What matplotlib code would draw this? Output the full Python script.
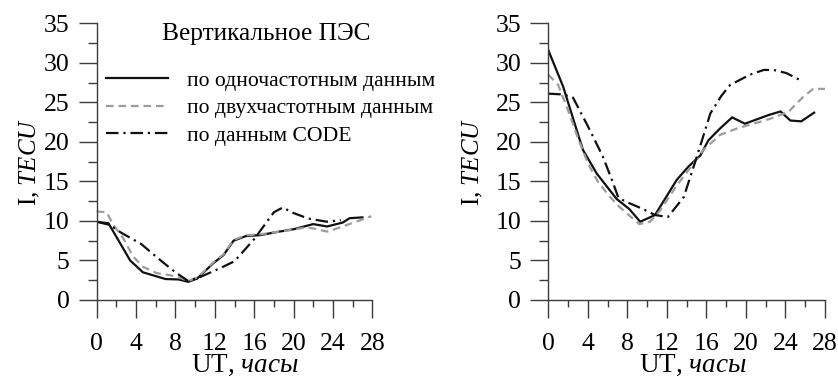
import matplotlib
matplotlib.use("Agg")
import matplotlib.pyplot as plt
from matplotlib.ticker import MultipleLocator

plt.rcParams['font.family'] = ['Liberation Serif', 'DejaVu Serif']
plt.rcParams['mathtext.fontset'] = 'custom'
plt.rcParams['mathtext.rm'] = 'Liberation Serif'
plt.rcParams['mathtext.it'] = 'Liberation Serif:italic'
plt.rcParams['lines.scale_dashes'] = False

# --- vertical TEC, left panel ---
left_single_t = [0, 1.2, 3.4, 4.7, 7.0, 8.3, 9.3, 10.2, 11.8, 12.9, 13.9, 15.2,
                 16.6, 18.3, 20.0, 22.0, 23.4, 25.0, 25.7, 27.0]
left_single_v = [9.9, 9.7, 5.0, 3.5, 2.65, 2.6, 2.3, 2.7, 4.6, 5.7, 7.5, 8.1,
                 8.2, 8.6, 8.95, 9.6, 9.3, 9.8, 10.35, 10.45]

left_dual_t = [0, 1.0, 1.7, 2.7, 3.7, 4.7, 6.1, 7.6, 8.6, 9.3, 10.3, 11.8, 12.9,
               13.9, 15.2, 16.6, 18.3, 20.0, 21.3, 22.2, 23.4, 25.0, 27.9]
left_dual_v = [11.2, 11.1, 9.5, 7.8, 5.5, 4.2, 3.4, 3.1, 2.75, 2.4, 2.9, 4.7, 5.8,
               7.6, 8.2, 8.3, 8.6, 8.9, 9.2, 9.0, 8.65, 9.3, 10.6]

left_code_t = [0, 1.3, 2.5, 4.5, 6.5, 8.0, 9.3, 10.5, 12.5, 14.0, 16.0, 18.0,
               18.9, 20.0, 21.5, 23.4, 24.8]
left_code_v = [9.9, 9.5, 8.5, 7.1, 5.0, 3.5, 2.4, 2.9, 4.0, 4.9, 7.7, 11.1,
               11.7, 11.0, 10.3, 9.9, 10.1]

# --- vertical TEC, right panel ---
right_single_t = [0, 1.5, 3.5, 4.9, 6.9, 8.2, 9.3, 10.8, 13.0, 14.2, 15.4, 16.2,
                  17.3, 18.6, 19.9, 22.3, 23.5, 24.5, 25.6, 26.9]
right_single_v = [31.6, 27.0, 19.0, 16.0, 12.8, 11.5, 9.9, 10.75, 15.2, 16.9, 18.3, 20.2,
                  21.6, 23.1, 22.3, 23.4, 23.85, 22.7, 22.6, 23.7]

right_dual_t = [0, 1.0, 2.0, 3.0, 4.0, 5.0, 6.0, 7.0, 8.0, 9.2, 10.3, 11.3, 13.0,
                14.3, 15.7, 17.4, 19.1, 22.4, 24.3, 25.8, 26.8, 28.0]
right_dual_v = [28.5, 27.2, 24.0, 20.5, 17.3, 15.0, 13.4, 12.0, 10.9, 9.6, 9.9, 11.3, 14.5,
                16.6, 19.0, 20.9, 21.7, 22.9, 23.8, 25.7, 26.7, 26.7]

right_code_t = [0, 1.5, 2.5, 4.0, 5.5, 6.5, 7.1, 8.1, 9.6, 10.8, 12.1, 13.7, 15.0,
                16.4, 17.5, 18.4, 20.4, 21.8, 22.8, 24.1, 25.5]
right_code_v = [26.1, 26.0, 25.6, 22.0, 18.2, 15.0, 12.9, 12.3, 11.5, 10.75, 10.5, 13.0, 18.0,
                23.6, 25.8, 27.2, 28.5, 29.1, 29.1, 28.7, 27.8]

legend_labels = ["по одночастотным данным", "по двухчастотным данным", "по данным CODE"]
title_text = "Вертикальное ПЭС"
x_ticks = [0, 4, 8, 12, 16, 20, 24, 28]
y_ticks = [0, 5, 10, 15, 20, 25, 30, 35]

AXIS_COLOR = '#3c3c3c'
GRAY = '#9c9c9c'

fig = plt.figure(figsize=(8.38, 3.8), dpi=100)
ax1 = fig.add_axes([96.7 / 838, 80 / 380, 275.6 / 838, 276.7 / 380])
ax2 = fig.add_axes([548.3 / 838, 80 / 380, 276.7 / 838, 276.7 / 380])

series = [
    (ax1, left_single_t, left_single_v, left_dual_t, left_dual_v, left_code_t, left_code_v),
    (ax2, right_single_t, right_single_v, right_dual_t, right_dual_v, right_code_t, right_code_v),
]

handles = None
for ax, st, sv, dt, dv, ct, cv in series:
    l1, = ax.plot(st, sv, color='#111111', lw=1.6, solid_joinstyle='miter')
    l2, = ax.plot(dt, dv, color=GRAY, lw=1.6, dashes=(5.5, 3.5), clip_on=False)
    l3, = ax.plot(ct, cv, color='#111111', lw=1.6, dashes=(9, 3.5, 1.6, 3.5))
    if handles is None:
        handles = (l1, l2, l3)
    ax.set_xlim(0, 28)
    ax.set_ylim(0, 35)
    ax.set_xticks(x_ticks)
    ax.set_yticks(y_ticks)
    ax.xaxis.set_minor_locator(MultipleLocator(4, offset=2))
    ax.yaxis.set_minor_locator(MultipleLocator(2.5))
    for side in ('top', 'right'):
        ax.spines[side].set_visible(False)
    for side in ('left', 'bottom'):
        ax.spines[side].set_color(AXIS_COLOR)
        ax.spines[side].set_linewidth(1.0)
    ax.tick_params(which='both', direction='out', color=AXIS_COLOR, width=1.0,
                   labelsize=18.5)
    ax.tick_params(which='major', length=13)
    ax.tick_params(axis='x', which='minor', length=5)
    ax.tick_params(axis='y', which='minor', length=6.5)
    ax.tick_params(axis='x', which='major', pad=10.5)
    ax.tick_params(axis='y', which='major', pad=6.5)
    ax.set_xlabel(r"UT, $\mathit{часы}$", fontsize=19.5)
    ax.set_ylabel(r"I, $\mathit{TECU}$", fontsize=18)
    ax.patch.set_alpha(0)

ax1.xaxis.set_label_coords(0.537, -0.192)
ax2.xaxis.set_label_coords(0.521, -0.192)
ax1.yaxis.set_label_coords(-0.20, 0.50)
ax2.yaxis.set_label_coords(-0.229, 0.50)

ax1.text(0.616, 0.94, title_text, transform=ax1.transAxes, ha='center',
         va='baseline', fontsize=18.3)

ax1.legend(handles, legend_labels, loc='upper left', bbox_to_anchor=(0.034, 0.83),
           frameon=False, fontsize=15.6, handlelength=2.85, handletextpad=0.9,
           labelspacing=0.35, borderpad=0, borderaxespad=0)

fig.savefig("out.png", dpi=100)
